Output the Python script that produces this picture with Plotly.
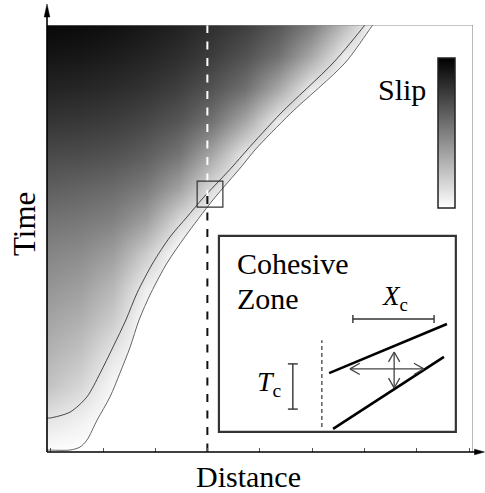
import plotly.graph_objects as go

# ---------------- data ----------------
# grid nodes (distance, time) in arbitrary units
dist_nodes = [0, 1, 2, 3, 4, 5, 6, 7, 8, 9, 10]
time_nodes = [0, 1, 2, 3, 4, 5, 6, 7, 8, 9, 10, 11, 12, 13]
# slip (0 = none/white, 1 = max/black), one row per time node
slip = [
    [0.00, 0.00, 0.00, 0.00, 0.00, 0.00, 0.00, 0.00, 0.00, 0.00, 0.00],
    [0.11, 0.06, 0.00, 0.00, 0.00, 0.00, 0.00, 0.00, 0.00, 0.00, 0.00],
    [0.24, 0.16, 0.03, 0.00, 0.00, 0.00, 0.00, 0.00, 0.00, 0.00, 0.00],
    [0.30, 0.24, 0.10, 0.00, 0.00, 0.00, 0.00, 0.00, 0.00, 0.00, 0.00],
    [0.36, 0.31, 0.20, 0.00, 0.00, 0.00, 0.00, 0.00, 0.00, 0.00, 0.00],
    [0.42, 0.38, 0.28, 0.07, 0.00, 0.00, 0.00, 0.00, 0.00, 0.00, 0.00],
    [0.48, 0.45, 0.38, 0.20, 0.00, 0.00, 0.00, 0.00, 0.00, 0.00, 0.00],
    [0.55, 0.53, 0.49, 0.38, 0.15, 0.00, 0.00, 0.00, 0.00, 0.00, 0.00],
    [0.63, 0.61, 0.58, 0.52, 0.37, 0.14, 0.00, 0.00, 0.00, 0.00, 0.00],
    [0.71, 0.70, 0.68, 0.63, 0.54, 0.34, 0.09, 0.00, 0.00, 0.00, 0.00],
    [0.79, 0.78, 0.76, 0.72, 0.66, 0.55, 0.34, 0.07, 0.00, 0.00, 0.00],
    [0.86, 0.85, 0.83, 0.80, 0.75, 0.67, 0.56, 0.34, 0.08, 0.00, 0.00],
    [0.92, 0.91, 0.89, 0.86, 0.82, 0.76, 0.68, 0.56, 0.34, 0.08, 0.00],
    [0.97, 0.96, 0.94, 0.91, 0.87, 0.82, 0.76, 0.67, 0.53, 0.28, 0.00],
]

# thin contour line (small-slip contour)
contour_dist = [0.00, 0.09, 0.70, 1.21, 1.61, 2.00, 2.39, 2.73, 3.21, 3.73,
                4.24, 4.73, 5.24, 5.64, 6.06, 7.09, 8.67, 9.61, 9.90]
contour_time = [1.03, 1.03, 1.21, 1.67, 2.39, 3.18, 4.00, 4.82, 5.73, 6.52,
                7.12, 7.70, 8.24, 8.67, 9.15, 10.27, 11.79, 12.91, 13.30]

# rupture front (edge of slipping region)
front_dist = [-0.50, 0.00, 0.70, 1.00, 1.21, 1.52, 1.91, 2.21, 2.52, 2.79,
              3.15, 3.64, 4.18, 5.03, 5.91, 6.30, 7.39, 9.03, 9.85, 10.28]
front_time = [0.06, 0.06, 0.06, 0.15, 0.36, 0.97, 1.67, 2.39, 3.18, 4.00,
              4.82, 5.73, 6.52, 7.64, 8.67, 9.15, 10.27, 11.79, 12.91, 13.50]

obs_dist = 4.86          # observation point (dashed line)
obs_time = 7.76          # where the dashed line changes colour

X_RANGE = [0, 12.91]
T_RANGE = [0, 12.94]

FONT = "Liberation Serif"

fig = go.Figure()

fig.add_trace(go.Heatmap(
    x=dist_nodes, y=time_nodes, z=slip,
    colorscale=[[0, "#ffffff"], [1, "#000000"]], zmin=0, zmax=1,
    zsmooth="best", hoverinfo="skip",
    colorbar=dict(
        thickness=17, thicknessmode="pixels",
        len=150, lenmode="pixels",
        x=0.918, xanchor="left", xpad=0,
        y=0.9227, yanchor="top", ypad=0,
        outlinewidth=1.5, outlinecolor="#222222",
        showticklabels=False, ticks="",
    ),
))

# white region ahead of the rupture front
fx = front_dist + [13.5, 13.5, -0.5]
ft = front_time + [13.5, -0.5, -0.5]
fig.add_trace(go.Scatter(x=fx, y=ft, fill="toself", fillcolor="white",
                         mode="none", hoverinfo="skip", showlegend=False))

fig.add_trace(go.Scatter(x=front_dist, y=front_time, mode="lines",
                         line=dict(color="#555555", width=0.9, shape="spline", smoothing=0.8),
                         hoverinfo="skip", showlegend=False))
fig.add_trace(go.Scatter(x=contour_dist, y=contour_time, mode="lines",
                         line=dict(color="#333333", width=0.9, shape="spline", smoothing=0.8),
                         hoverinfo="skip", showlegend=False))

# dashed observation line
fig.add_trace(go.Scatter(x=[obs_dist, obs_dist], y=[T_RANGE[1], obs_time], mode="lines",
                         line=dict(color="white", width=2, dash="8px,8.5px"),
                         hoverinfo="skip", showlegend=False))
fig.add_trace(go.Scatter(x=[obs_dist, obs_dist], y=[obs_time, 0], mode="lines",
                         line=dict(color="#111111", width=2, dash="8px,8.5px"),
                         hoverinfo="skip", showlegend=False))

shapes = []
# frame (top / right) in gray
shapes.append(dict(type="line", xref="x", yref="y", x0=0, x1=X_RANGE[1], y0=T_RANGE[1], y1=T_RANGE[1],
                   line=dict(color="#8a8a8a", width=1.2)))
shapes.append(dict(type="line", xref="x", yref="y", x0=X_RANGE[1], x1=X_RANGE[1], y0=0, y1=T_RANGE[1],
                   line=dict(color="#8a8a8a", width=1.2)))
# axes with arrows (paper coords)
shapes.append(dict(type="line", xref="paper", yref="paper", x0=0, x1=0, y0=0, y1=1.03,
                   line=dict(color="black", width=1.6)))
shapes.append(dict(type="line", xref="paper", yref="paper", x0=0, x1=1.01, y0=0, y1=0,
                   line=dict(color="black", width=1.6)))
shapes.append(dict(type="path", xref="paper", yref="paper",
                   path="M -0.0066,1.0187 L 0,1.0492 L 0.0066,1.0187 Z",
                   fillcolor="black", line=dict(color="black", width=0.5)))
shapes.append(dict(type="path", xref="paper", yref="paper",
                   path="M 1.0035,-0.0066 L 1.0270,0 L 1.0035,0.0066 Z",
                   fillcolor="black", line=dict(color="black", width=0.5)))
# small square at the observation point
shapes.append(dict(type="rect", xref="x", yref="y", x0=4.55, x1=5.33, y0=7.42, y1=8.21,
                   line=dict(color="#333333", width=1.2)))
# inset box
shapes.append(dict(type="rect", xref="x", yref="y", x0=5.21, x1=12.39, y0=0.61, y1=6.55,
                   line=dict(color="#333333", width=2.2)))


def seg(x0, y0, x1, y1, color="#333333", width=1.4, dash=None):
    d = dict(color=color, width=width)
    if dash:
        d["dash"] = dash
    return dict(type="line", xref="x", yref="y", x0=x0, y0=y0, x1=x1, y1=y1, line=d)


# X_c bar
shapes += [seg(9.27, 4.03, 11.73, 4.03), seg(9.27, 3.91, 9.27, 4.15), seg(11.73, 3.91, 11.73, 4.15)]
# T_c bar
shapes += [seg(7.45, 1.30, 7.45, 2.67), seg(7.30, 1.30, 7.60, 1.30), seg(7.30, 2.67, 7.60, 2.67)]
# two thick front lines
shapes += [seg(8.55, 2.39, 12.12, 3.88, color="black", width=2.6),
           seg(8.67, 0.70, 12.03, 2.88, color="black", width=2.6)]
# dashed vertical line in inset
shapes.append(seg(8.33, 0.76, 8.33, 3.39, color="#333333", width=1.2, dash="4px,3px"))
# double arrows
ac = "#444444"
shapes += [seg(9.18, 2.52, 11.42, 2.52, color=ac, width=1.3),
           seg(9.18, 2.52, 9.48, 2.69, color=ac, width=1.3), seg(9.18, 2.52, 9.48, 2.35, color=ac, width=1.3),
           seg(11.42, 2.52, 11.12, 2.69, color=ac, width=1.3), seg(11.42, 2.52, 11.12, 2.35, color=ac, width=1.3),
           seg(10.52, 1.94, 10.52, 3.03, color=ac, width=1.3),
           seg(10.52, 3.03, 10.35, 2.73, color=ac, width=1.3), seg(10.52, 3.03, 10.69, 2.73, color=ac, width=1.3),
           seg(10.52, 1.94, 10.35, 2.24, color=ac, width=1.3), seg(10.52, 1.94, 10.69, 2.24, color=ac, width=1.3)]

annotations = [
    dict(text="Time", xref="paper", yref="paper", x=-0.0516, y=0.534, textangle=-90,
         showarrow=False, font=dict(family=FONT, size=31, color="black"),
         xanchor="center", yanchor="middle"),
    dict(text="Distance", xref="paper", yref="paper", x=0.474, y=-0.0565,
         showarrow=False, font=dict(family=FONT, size=30, color="black"),
         xanchor="center", yanchor="middle"),
    dict(text="Slip", xref="paper", yref="paper", x=0.895, y=0.848,
         showarrow=False, font=dict(family=FONT, size=30, color="black"),
         xanchor="right", yanchor="middle"),
    dict(text="Cohesive", xref="x", yref="y", x=5.70, y=5.70,
         showarrow=False, font=dict(family=FONT, size=30, color="black"),
         xanchor="left", yanchor="middle"),
    dict(text="Zone", xref="x", yref="y", x=5.70, y=4.64,
         showarrow=False, font=dict(family=FONT, size=30, color="black"),
         xanchor="left", yanchor="middle"),
    dict(text="<i>X</i><sub>c</sub>", xref="x", yref="y", x=10.08, y=4.66,
         showarrow=False, font=dict(family=FONT, size=27, color="black"),
         xanchor="left", yanchor="middle"),
    dict(text="<i>T</i><sub>c</sub>", xref="x", yref="y", x=6.30, y=2.09,
         showarrow=False, font=dict(family=FONT, size=28, color="black"),
         xanchor="left", yanchor="middle"),
]

fig.update_layout(
    width=485, height=493, autosize=False,
    margin=dict(l=47, r=12, t=25, b=41, pad=0),
    paper_bgcolor="white", plot_bgcolor="white",
    showlegend=False,
    shapes=shapes, annotations=annotations,
    xaxis=dict(range=X_RANGE, showgrid=False, zeroline=False, showline=False,
               ticks="inside", ticklen=4, tickcolor="#555555", tickwidth=1,
               tick0=1.697, dtick=1.585, showticklabels=False, fixedrange=True),
    yaxis=dict(range=T_RANGE, showgrid=False, zeroline=False, showline=False,
               ticks="", showticklabels=False, fixedrange=True),
)

fig.write_html("out.html")
